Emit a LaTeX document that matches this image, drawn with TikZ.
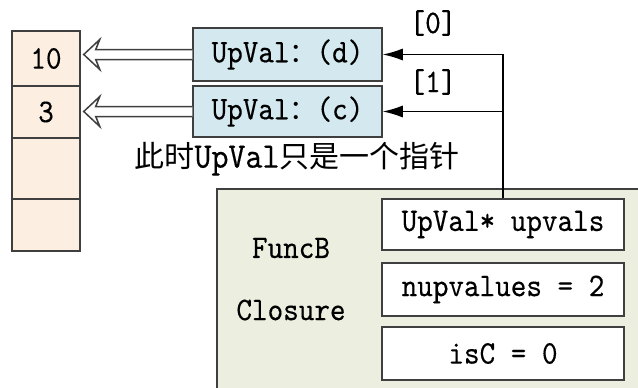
\documentclass[tikz,border=0pt]{standalone}
\usepackage{fontspec}
\usetikzlibrary{calc,arrows.meta}
\newfontfamily\cjk{Noto Sans CJK SC}
\newfontfamily\codefont{lmmono10-regular}[Extension=.otf,FakeStretch=0.9,FakeBold=0.3]
\definecolor{edge}{HTML}{3F3F3F}
\definecolor{stackfill}{HTML}{FDEEE2}
\definecolor{upfill}{HTML}{D3E9EF}
\definecolor{closurefill}{HTML}{ECEFDF}
% hollow double-line arrow from the left side of #1 to the right side of #2
\newcommand\hollowarr[2]{%
  \coordinate (t) at ($(#2.east |- #1.west)+(3,0)$);
  \draw[hollowline] ($(#1.west)+(0,-5)$) -- ($(t)+(12,-5)$) -- ($(t)+(16,-15)$)
    -- (t) -- ($(t)+(16,15)$) -- ($(t)+(12,5)$) -- ($(#1.west)+(0,5)$);}
\begin{document}
\begin{tikzpicture}[x=1pt,y=-1pt,
  font={\codefont\fontsize{33}{34}\selectfont},
  cell/.style={draw=edge,line width=1.5pt,fill=stackfill,minimum width=68pt,inner sep=0pt},
  upbox/.style={draw=edge,line width=1.5pt,fill=upfill,minimum width=189pt,inner sep=0pt},
  field/.style={draw=edge,line width=1.5pt,fill=white,minimum width=242pt,inner sep=0pt},
  ptr/.style={line width=1.3pt,-{Latex[length=20pt,width=12pt]}},
  hollowline/.style={draw=edge,line width=1.5pt,fill=white,line join=miter}]
\useasboundingbox (0,0) rectangle (638,388);
\clip (0,0) rectangle (638,388);

% stack slots
\node[cell,minimum height=55pt] (s0) at (46,58.5) {10};
\node[cell,minimum height=52pt] (s1) at (46,112) {3};
\node[cell,minimum height=61pt] (s2) at (46,168.5) {};
\node[cell,minimum height=52pt] (s3) at (46,225) {};

% upvalues
\node[upbox,minimum height=53pt] (d) at (287.5,54.5) {UpVal{\cjk\fontsize{27}{30}\selectfont ：}(d)};
\node[upbox,minimum height=51pt] (c) at (287.5,111.5) {UpVal{\cjk\fontsize{27}{30}\selectfont ：}(c)};

\hollowarr{d}{s0}
\hollowarr{c}{s1}

\node (cap) at (297,159) {{\cjk\fontsize{30}{32}\selectfont 此时}{\fontsize{36}{36}\selectfont UpVal}{\cjk\fontsize{30}{32}\selectfont 只是一个指针}};

% closure
\node[draw=edge,line width=1.5pt,fill=closurefill,minimum width=450pt,minimum height=230pt,anchor=north west,inner sep=0pt] (clo) at (216,188) {};
\node (fb) at (291,248) {FuncB};
\node (cl) at (291,310) {Closure};
\node[field,minimum height=51pt] (up) at (503,224.5) {UpVal* upvals};
\node[field,minimum height=53pt] (nup) at (503,289.5) {nupvalues = 2};
\node[field,minimum height=53pt] (isc) at (503,353.5) {isC = 0};

% pointers from upvals array
\draw[ptr] (up.north) |- (d.east);
\draw[ptr] (up.north) |- (c.east);
\node (n0) at (433,23) {[0]};
\node (n1) at (433,82) {[1]};
\end{tikzpicture}
\end{document}
